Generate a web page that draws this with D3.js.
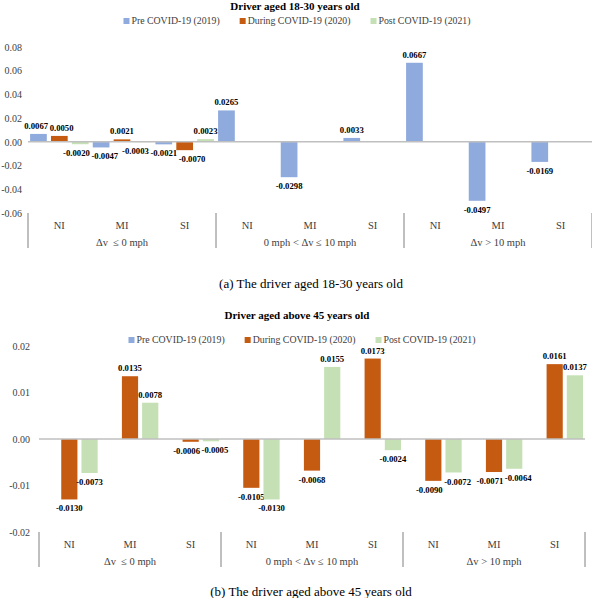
<!DOCTYPE html>
<html>
<head>
<meta charset="utf-8">
<script src="https://cdn.jsdelivr.net/npm/d3@7"></script>
<style>
  body { margin: 0; background: #fff; }
  svg { display: block; font-family: "Liberation Serif", "Times New Roman", serif; }
</style>
</head>
<body>
<svg width="592" height="598"></svg>
<script>
// categories
const groups = ["Δv  ≤ 0 mph", "0 mph < Δv ≤ 10 mph", "Δv > 10 mph"];
const injuries = ["NI", "MI", "SI"];
const seriesNames = ["Pre COVID-19 (2019)", "During COVID-19 (2020)", "Post COVID-19 (2021)"];
const colors = ["#8faadc", "#c55a11", "#c5e0b4"];

// values, one per group x injury (NI, MI, SI for each group); null = no bar
const young_pre = [0.0067, -0.0047, -0.0021, 0.0265, -0.0298, 0.0033, 0.0667, -0.0497, -0.0169];
const young_during = [0.0050, 0.0021, -0.0070, null, null, null, null, null, null];
const young_post = [-0.0020, -0.0003, 0.0023, null, null, null, null, null, null];

const old_pre = [null, null, null, null, null, null, null, null, null];
const old_during = [-0.0130, 0.0135, -0.0006, -0.0105, -0.0068, 0.0173, -0.0090, -0.0071, 0.0161];
const old_post = [-0.0073, 0.0078, -0.0005, -0.0130, 0.0155, -0.0024, -0.0072, -0.0064, 0.0137];

// tick labels
const young_ticks = [-0.06, -0.04, -0.02, 0, 0.02, 0.04, 0.06, 0.08];
const old_ticks = [-0.02, -0.01, 0, 0.01, 0.02];

const svg = d3.select("svg");

function drawChart(cfg) {
    const g = svg.append("g");
    const cats = [];
    groups.forEach(gr => injuries.forEach(inj => cats.push(gr + "|" + inj)));

    const x0 = d3.scaleBand().domain(groups).range([cfg.left, cfg.right]);
    const xc = d3.scaleBand().domain(cats).range([cfg.left, cfg.right]);
    const x1 = d3.scaleBand().domain([0, 1, 2]).range([0, xc.bandwidth()])
      .paddingInner(0.2).paddingOuter(0.1);
    const y = d3.scaleLinear().domain(cfg.domain).range([cfg.bottom, cfg.top]);

    // title
    g.append("text")
      .attr("x", cfg.titleX).attr("y", cfg.titleY).attr("dy", "0.35em")
      .attr("text-anchor", "middle")
      .style("font-size", "11px").style("font-weight", "bold")
      .text(cfg.title);

    // legend
    const leg = g.append("g");
    let lx = 0;
    seriesNames.forEach((name, i) => {
        const it = leg.append("g").attr("transform", "translate(" + lx + ",0)");
        it.append("rect").attr("x", 0).attr("y", -3).attr("width", 6).attr("height", 6)
          .attr("fill", colors[i]);
        const t = it.append("text").attr("x", 8).attr("dy", "0.35em")
          .style("font-size", "9.8px").attr("fill", "#404040").text(name);
        lx += 8 + t.node().getComputedTextLength() + 20;
    });
    const legW = lx - 20;
    leg.attr("transform", "translate(" + (cfg.legendX - legW / 2) + "," + cfg.legendY + ")");

    // y axis
    const yAxis = g.append("g")
      .attr("transform", "translate(" + cfg.left + ",0)")
      .call(d3.axisLeft(y).tickValues(cfg.ticks).tickFormat(d3.format(".2f"))
        .tickSize(0).tickPadding(cfg.tickPad));
    yAxis.select(".domain").remove();
    yAxis.selectAll("text")
      .style("font-family", "Liberation Serif, serif")
      .style("font-size", "10px").attr("fill", "#404040")
      .text(d => d3.format(".2f")(d).replace("−", "-"));

    // bars
    const labels = [];
    cfg.series.forEach((vals, s) => {
        vals.forEach((v, k) => {
            if (v === null) return;
            const bx = xc(cats[k]) + x1(s);
            g.append("rect")
              .attr("x", bx).attr("width", x1.bandwidth())
              .attr("y", Math.min(y(v), y(0)))
              .attr("height", Math.abs(y(v) - y(0)))
              .attr("fill", colors[s]);
            const t = g.append("text")
              .attr("y", v >= 0 ? y(v) - 8 : y(v) + 9)
              .attr("dy", "0.35em")
              .attr("text-anchor", "middle")
              .style("font-size", "8.7px").style("font-weight", "bold")
              .text(d3.format(".4f")(v).replace("−", "-"));
            labels.push({ t: t, x: bx + x1.bandwidth() / 2,
              y: v >= 0 ? y(v) - 8 : y(v) + 9, w: t.node().getComputedTextLength() });
        });
    });

    // push overlapping value labels apart sideways
    for (let it = 0; it < 20; it++) {
        for (let i = 0; i < labels.length; i++) {
            for (let j = i + 1; j < labels.length; j++) {
                const a = labels[i], b = labels[j];
                if (Math.abs(a.y - b.y) >= 9) continue;
                const need = (a.w + b.w) / 2 + 1.5;
                const d = b.x - a.x;
                if (Math.abs(d) >= need) continue;
                const shift = (need - Math.abs(d)) / 2;
                const sgn = d >= 0 ? 1 : -1;
                a.x -= shift * sgn;
                b.x += shift * sgn;
            }
        }
    }
    labels.forEach(l => l.t.attr("x", l.x));

    // zero line
    g.append("line")
      .attr("x1", cfg.left).attr("x2", cfg.right)
      .attr("y1", y(0)).attr("y2", y(0))
      .attr("stroke", "#bfbfbf").attr("stroke-width", 1.5);

    // x axis: separators, injury and group labels
    const seps = groups.map(gr => x0(gr)).concat([cfg.right]);
    seps.forEach(sx => {
        g.append("line")
          .attr("x1", sx).attr("x2", sx)
          .attr("y1", cfg.bottom).attr("y2", cfg.bottom + 35)
          .attr("stroke", "#808080").attr("stroke-width", 1);
    });
    cats.forEach(c => {
        g.append("text")
          .attr("x", xc(c) + xc.bandwidth() / 2).attr("y", cfg.bottom + 12).attr("dy", "0.35em")
          .attr("text-anchor", "middle").style("font-size", "10.5px").attr("fill", "#404040")
          .text(c.split("|")[1]);
    });
    groups.forEach(gr => {
        g.append("text")
          .attr("x", x0(gr) + x0.bandwidth() / 2).attr("y", cfg.bottom + 29).attr("dy", "0.35em")
          .attr("text-anchor", "middle").style("font-size", "10.5px").attr("fill", "#404040")
          .style("white-space", "pre").attr("xml:space", "preserve")
          .text(gr);
    });

    // caption
    g.append("text")
      .attr("x", cfg.captionX).attr("y", cfg.captionY).attr("dy", "0.35em")
      .attr("text-anchor", "middle").style("font-size", "13px")
      .text(cfg.caption);
}

drawChart({
    title: "Driver aged 18-30 years old",
    caption: "(a) The driver aged 18-30 years old",
    series: [young_pre, young_during, young_post],
    domain: [-0.06, 0.08], ticks: young_ticks, tickPad: 6,
    left: 28, right: 592, top: 47, bottom: 213,
    titleX: 295, titleY: 6, legendX: 297, legendY: 21,
    captionX: 311, captionY: 283
});

drawChart({
    title: "Driver aged above 45 years old",
    caption: "(b) The driver aged above 45 years old",
    series: [old_pre, old_during, old_post],
    domain: [-0.02, 0.02], ticks: old_ticks, tickPad: 9,
    left: 39, right: 585, top: 346, bottom: 532,
    titleX: 297, titleY: 315, legendX: 302, legendY: 340,
    captionX: 311, captionY: 591
});
</script>
</body>
</html>
